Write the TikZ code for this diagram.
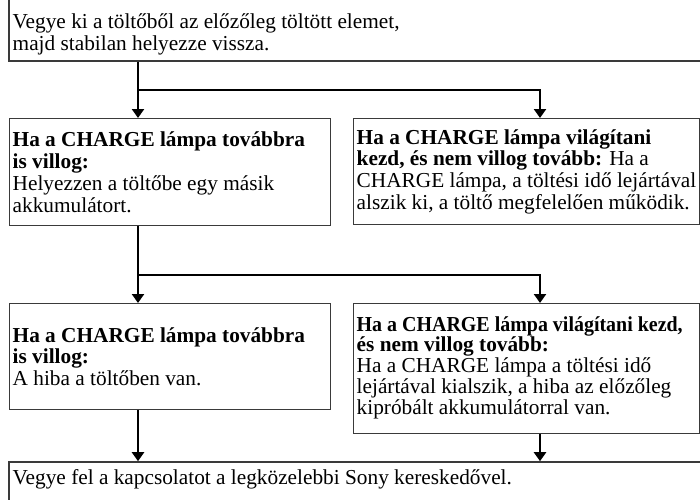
\documentclass[tikz,border=0pt]{standalone}
\usepackage{fontspec}
\setmainfont{Liberation Serif}
\usetikzlibrary{arrows.meta,fit}
\newcommand\mainfs{\fontsize{21.3}{21.8}\selectfont}
\newcommand\tightfs{\fontsize{21.3}{20.8}\selectfont}
\definecolor{boxgray}{HTML}{3A3A3A}
\tikzset{
  box/.style={draw=boxgray, line width=1.3pt, rectangle, anchor=north west, inner sep=0pt},
  framebox/.style={draw=boxgray, line width=1.6pt, rectangle, inner sep=0pt},
  plaintext/.style={anchor=west, align=left, font=\mainfs, inner sep=0pt},
  conn/.style={line width=2.3pt, black, line join=miter},
  arr/.style={conn, -{Triangle[length=9pt,width=12pt]}}
}
\begin{document}
\begin{tikzpicture}[x=1pt,y=-1pt]
\useasboundingbox (0,0) rectangle (700,499);
\clip (0,0) rectangle (700,499);
% top box
\node[framebox, fit={(9,-8) (706,61)}] (top) {};
\node[plaintext] (toptext) at (12.5,34) {Vegye ki a töltőből az előzőleg töltött elemet,\\ majd stabilan helyezze vissza.};
% middle row
\node[box, minimum width=321pt, minimum height=107pt] (A) at (9,118) {};
\node[plaintext] (At) at ([xshift=3.5pt]A.west)
  {\textbf{Ha a CHARGE lámpa továbbra}\\ \textbf{is villog:}\\ Helyezzen a töltőbe egy másik\\ akkumulátort.};
\node[box, minimum width=346pt, minimum height=106pt] (B) at (353,118) {};
\node[plaintext] (Bt) at ([xshift=3.5pt]B.west)
  {\textbf{Ha a CHARGE lámpa világítani}\\ \textbf{kezd, és nem villog tovább:} Ha a\\ CHARGE lámpa, a töltési idő lejártával\\ alszik ki, a töltő megfelelően működik.};
% lower row
\node[box, minimum width=321pt, minimum height=106pt] (C) at (9,303) {};
\node[plaintext] (Ct) at ([xshift=3.5pt]C.west)
  {\textbf{Ha a CHARGE lámpa továbbra}\\ \textbf{is villog:}\\ A hiba a töltőben van.};
\node[box, minimum width=346pt, minimum height=130pt] (D) at (353,303) {};
\node[plaintext, font=\tightfs] (Dt) at ([xshift=3.5pt,yshift=1pt]D.west)
  {\scalebox{0.937}[1]{\textbf{Ha a CHARGE lámpa világítani kezd,}}\\ \textbf{és nem villog tovább:}\\ Ha a CHARGE lámpa a töltési idő\\ lejártával kialszik, a hiba az előzőleg\\ kipróbált akkumulátorral van.};
% bottom box
\node[framebox, fit={(9,462) (706,508)}] (bottom) {};
\node[plaintext] (bottomtext) at (12.5,479) {Vegye fel a kapcsolatot a legközelebbi Sony kereskedővel.};
% connectors
\coordinate (j1) at (138,90);
\coordinate (j1r) at (540,90);
\coordinate (j2) at (138,275);
\coordinate (j2r) at (540,275);
\draw[arr] (top.south -| j1) -- (A.north -| j1);
\draw[arr] (j1) -- (j1r) -- (B.north -| j1r);
\draw[arr] (A.south -| j2) -- (C.north -| j2);
\draw[arr] (j2) -- (j2r) -- (D.north -| j2r);
\draw[arr] (C.south -| j2) -- (bottom.north -| j2);
\draw[arr] (D.south -| j2r) -- (bottom.north -| j2r);
\end{tikzpicture}
\end{document}
